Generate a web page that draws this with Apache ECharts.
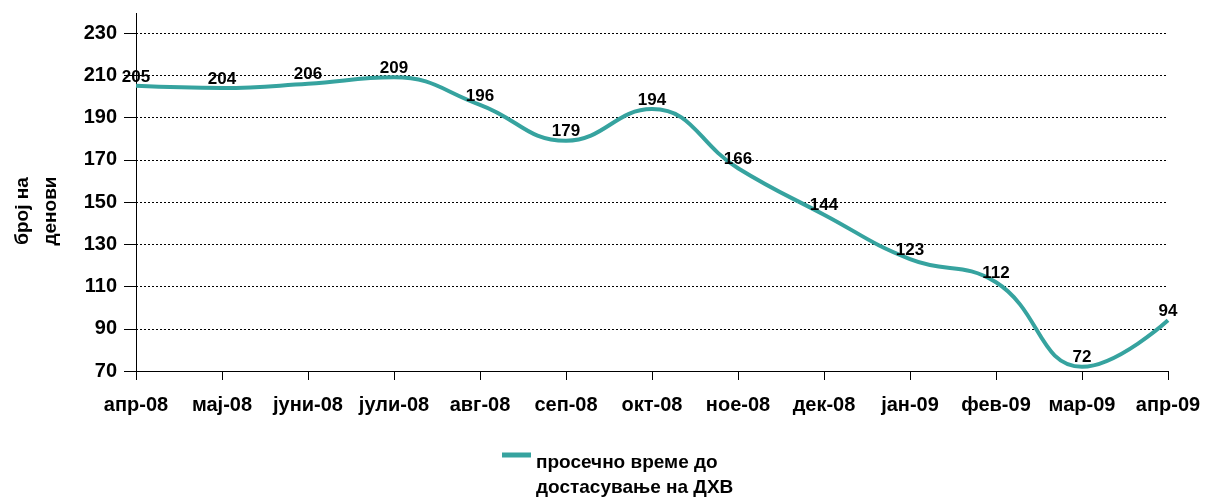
<!DOCTYPE html>
<html>
<head>
<meta charset="utf-8">
<script src="https://cdn.jsdelivr.net/npm/echarts@6/dist/echarts.min.js"></script>
<style>
  html, body { margin: 0; padding: 0; background: #fff; }
  #chart { width: 1206px; height: 498px; }
</style>
</head>
<body>
<div id="chart"></div>
<script>
// months on x axis
var months = ['апр-08', 'мај-08', 'јуни-08', 'јули-08', 'авг-08', 'сеп-08', 'окт-08',
  'ное-08', 'дек-08', 'јан-09', 'фев-09', 'мар-09', 'апр-09'];
// average days until delivery
var avgDays = [205, 204, 206, 209, 196, 179, 194, 166, 144, 123, 112, 72, 94];
var seriesName = 'просечно време до\nдостасување на ДХВ';
var yTitle = 'број на\nденови';

var chart = echarts.init(document.getElementById('chart'));
var font = 'Liberation Sans, Arial, sans-serif';
var teal = '#36a39f';

chart.setOption({
  animation: false,
  textStyle: { fontFamily: font },
  grid: { left: 136, right: 38, top: 33, bottom: 127, outerBoundsMode: 'none', containLabel: false },
  legend: {
    data: [{ name: seriesName }],
    top: 445,
    left: 497,
    itemWidth: 29,
    itemHeight: 45,
    itemGap: 0,
    // bar sits at top of the icon box, so it lines up with the first text line
    icon: 'path://M0,0L29,0L29,5L0,5Z M0,44.99L0.01,44.99L0.01,45Z',
    itemStyle: { color: teal, opacity: 1 },
    textStyle: {
      fontFamily: font, fontWeight: 'bold', fontSize: 19, color: '#000', lineHeight: 25
    }
  },
  xAxis: {
    type: 'category',
    data: months,
    boundaryGap: false,
    axisLine: { lineStyle: { color: '#000', width: 1 } },
    axisTick: { alignWithLabel: true, length: 9, lineStyle: { color: '#000' } },
    axisLabel: { color: '#000', fontWeight: 'bold', fontSize: 20, margin: 24, interval: 0 }
  },
  yAxis: {
    type: 'value',
    min: 70,
    max: 230,
    interval: 20,
    name: yTitle,
    nameLocation: 'middle',
    nameGap: 71,
    nameTextStyle: {
      color: '#000', fontWeight: 'bold', fontSize: 19, lineHeight: 28,
      padding: [0, 18, 0, 0]
    },
    axisLine: { show: true, lineStyle: { color: '#000', width: 1 } },
    axisTick: { show: true, length: 12, lineStyle: { color: '#000' } },
    axisLabel: { color: '#000', fontWeight: 'bold', fontSize: 20, margin: 19 },
    splitLine: { lineStyle: { color: '#000', type: [2, 2], width: 1 } }
  },
  graphic: [{
    type: 'line',
    shape: { x1: 136.5, y1: 13, x2: 136.5, y2: 33 },
    style: { stroke: '#000', lineWidth: 1 }
  }],
  series: [{
    name: seriesName,
    type: 'line',
    data: avgDays,
    smooth: 0.45,
    symbol: 'circle',
    symbolSize: 1,
    showSymbol: true,
    lineStyle: { color: teal, width: 4 },
    itemStyle: { color: 'rgba(0,0,0,0)', borderWidth: 0 },
    label: {
      show: true,
      position: 'top',
      distance: 0,
      color: '#000',
      fontWeight: 'bold',
      fontSize: 17
    }
  }]
});
</script>
</body>
</html>
